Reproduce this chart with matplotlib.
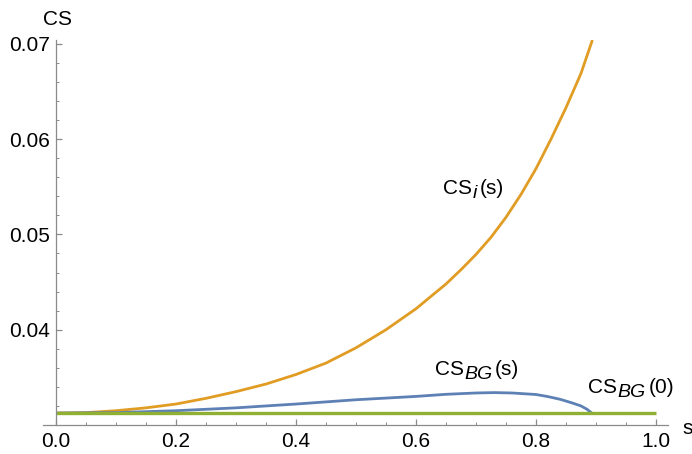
import numpy as np
import matplotlib
matplotlib.use('Agg')
from matplotlib import pyplot as plt
from matplotlib.ticker import MultipleLocator
from matplotlib.transforms import IdentityTransform

plt.rcParams['font.family'] = ['Liberation Sans', 'DejaVu Sans']

# CS_i(s) (orange)
s_i = [0.0, 0.05, 0.1, 0.15, 0.2, 0.25, 0.3, 0.35, 0.4, 0.45, 0.5, 0.55, 0.6,
       0.65, 0.675, 0.7, 0.725, 0.75, 0.775, 0.8, 0.825, 0.85, 0.875, 0.894]
cs_i = [0.03125, 0.0313, 0.0315, 0.0318, 0.0322, 0.0328, 0.0335, 0.0343, 0.0353,
        0.0365, 0.0381, 0.0400, 0.0422, 0.0448, 0.0463, 0.0479, 0.0497, 0.0518,
        0.0542, 0.0569, 0.0600, 0.0633, 0.0669, 0.0704]

# CS_BG(s) (blue)
s_bg = [0.0, 0.1, 0.2, 0.3, 0.4, 0.5, 0.6, 0.65, 0.7, 0.73, 0.76, 0.8, 0.82,
        0.84, 0.86, 0.875, 0.885, 0.893]
cs_bg = [0.03125, 0.0313, 0.0315, 0.0318, 0.0322, 0.03265, 0.0330, 0.03322,
         0.03336, 0.0334, 0.03336, 0.0332, 0.03298, 0.0327, 0.03232, 0.0320,
         0.03165, 0.03125]

# CS_BG(0) (green)
s_0 = [0.0, 1.0]
cs_0 = [0.03125, 0.03125]

fig = plt.figure(figsize=(6.92, 4.54), dpi=100)
ax = fig.add_axes([43/692, 29/454, 625/692, 385/454])

ax.plot(s_i, cs_i, color='#E19C24', lw=2, solid_capstyle='butt')
ax.plot(s_bg, cs_bg, color='#5E81B5', lw=2, solid_capstyle='butt')
ax.plot(s_0, cs_0, color='#8FB032', lw=2.4, solid_capstyle='butt')

ax.set_xlim(-0.0217, 1.02)
ax.set_ylim(0.03, 0.0704)

for sp in ['top', 'right']:
    ax.spines[sp].set_visible(False)
ax.spines['left'].set_position(('data', 0.0))
for sp in ['left', 'bottom']:
    ax.spines[sp].set_color('#8a8a8a')
    ax.spines[sp].set_linewidth(0.9)

ax.xaxis.set_minor_locator(MultipleLocator(0.05))
ax.yaxis.set_minor_locator(MultipleLocator(0.002))
ax.set_xticks([0.0, 0.2, 0.4, 0.6, 0.8, 1.0])
ax.set_xticklabels(['0.0', '0.2', '0.4', '0.6', '0.8', '1.0'])
ax.set_yticks([0.04, 0.05, 0.06, 0.07])
ax.set_yticklabels(['0.04', '0.05', '0.06', '0.07'])
ax.tick_params(which='both', direction='in', color='#8a8a8a', labelsize=15)
ax.tick_params(which='major', length=4.5, width=0.9)
ax.tick_params(which='minor', length=2.5, width=0.7)
ax.tick_params(axis='x', which='major', pad=5)
ax.tick_params(axis='y', which='major', pad=4)

fig.text(57.5/692, 1 - 25/454, 'CS', ha='center', va='baseline', fontsize=15)
fig.text(682/692, 1 - 428/454, 's', ha='left', va='center', fontsize=15)


def label(x, y, sub, tail):
    # CS + italic subscript + tail, starting at left/baseline (x, y)
    r = fig.canvas.get_renderer()
    px, py = ax.transData.transform((x, y))
    parts = [('CS', 'normal', 15, 0), (sub, 'italic', 14, 4), (tail, 'normal', 15, 0)]
    for txt, style, size, dy in parts:
        t = fig.text(px, py - dy, txt, transform=IdentityTransform(),
                     ha='left', va='baseline', fontsize=size, fontstyle=style)
        px = t.get_window_extent(r).x1 + (3 if style == 'italic' else 0)


fig.canvas.draw()
label(0.6455, 0.05421, 'i', '(s)')
label(0.6317, 0.03522, 'BG', '(s)')
label(0.8872, 0.03331, 'BG', '(0)')

fig.savefig('out.png', dpi=100)
